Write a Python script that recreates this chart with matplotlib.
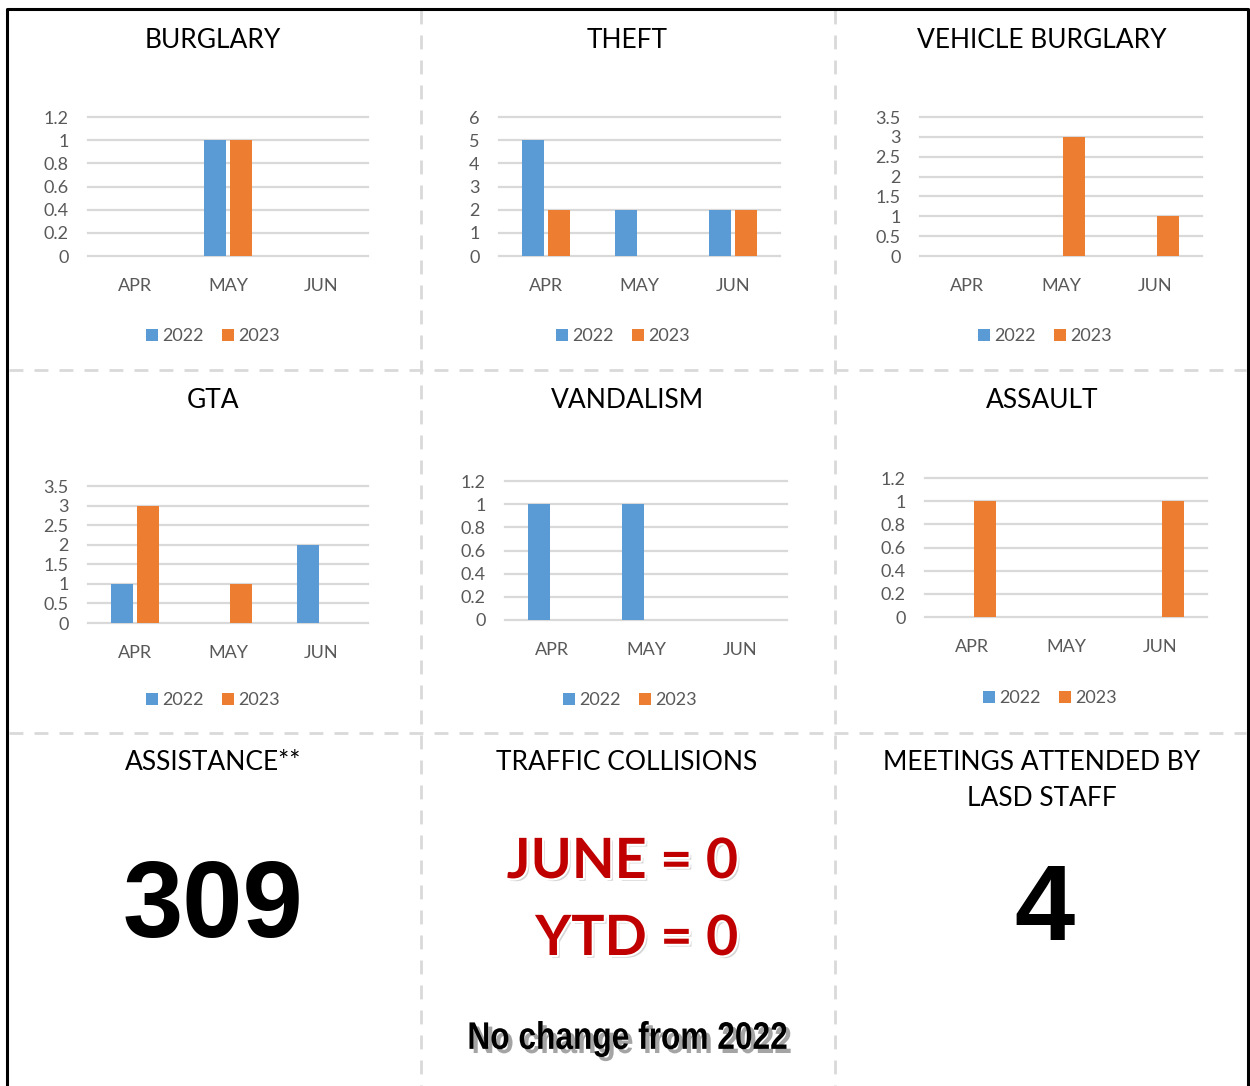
import matplotlib
matplotlib.use('Agg')
import matplotlib.pyplot as plt
import matplotlib.patheffects as pe
from matplotlib.lines import Line2D
from matplotlib.patches import PathPatch
from matplotlib.textpath import TextPath
from matplotlib.font_manager import FontProperties
from matplotlib.transforms import Affine2D
from matplotlib.ticker import FuncFormatter

plt.rcParams['font.family'] = ['Lato', 'DejaVu Sans']

W, H = 1250, 1086

# monthly counts
months = ['APR', 'MAY', 'JUN']
years = ['2022', '2023']
burglary_2022 = [0, 1, 0]
burglary_2023 = [0, 1, 0]
theft_2022 = [5, 2, 2]
theft_2023 = [2, 0, 2]
vehicle_2022 = [0, 0, 0]
vehicle_2023 = [0, 3, 1]
gta_2022 = [1, 0, 2]
gta_2023 = [3, 1, 0]
vandalism_2022 = [1, 1, 0]
vandalism_2023 = [0, 0, 0]
assault_2022 = [0, 0, 0]
assault_2023 = [1, 0, 1]

assistance_total = 309
meetings_total = 4
june_collisions = 0
ytd_collisions = 0

BLUE = '#5B9BD5'
ORANGE = '#ED7D31'
GRID = '#D9D9D9'
LABEL = '#595959'

fig = plt.figure(figsize=(W / 100, H / 100), dpi=100)


def fx(x):
    return x / W


def fy(y):
    return 1 - y / H


def crime_chart(title, s22, s23, ymax, step, box, title_xy, legend_xy):
    x0, y0, x1, y1 = box
    ax = fig.add_axes([fx(x0), fy(y1), (x1 - x0) / W, (y1 - y0) / H])
    idx = range(len(months))
    w = 0.235
    b1 = ax.bar([i - 0.14 for i in idx], s22, width=w, color=BLUE, label=years[0], zorder=3)
    b2 = ax.bar([i + 0.14 for i in idx], s23, width=w, color=ORANGE, label=years[1], zorder=3)
    ax.set_xlim(-0.5, len(months) - 0.5)
    ax.set_ylim(0, ymax)
    n = int(round(ymax / step))
    ax.set_yticks([k * step for k in range(n + 1)])
    ax.yaxis.set_major_formatter(FuncFormatter(lambda v, p: f'{v:g}'))
    ax.set_xticks(list(idx))
    ax.set_xticklabels(months)
    ax.tick_params(axis='both', length=0, labelcolor=LABEL, labelsize=13)
    ax.tick_params(axis='x', pad=16)
    ax.tick_params(axis='y', pad=14)
    ax.yaxis.grid(True, color=GRID, linewidth=1.6)
    ax.set_axisbelow(True)
    for gl in ax.get_ygridlines():
        gl.set_clip_on(False)
    for s in ax.spines.values():
        s.set_visible(False)
    ax.patch.set_alpha(0)
    fig.text(fx(title_xy[0]), fy(title_xy[1]), title, ha='center', va='center', fontsize=19)
    ax.legend(handles=[b1, b2], loc='center', ncol=2, frameon=False,
              bbox_to_anchor=(fx(legend_xy[0]), fy(legend_xy[1])), bbox_transform=fig.transFigure,
              handlelength=0.65, handleheight=0.65, handletextpad=0.25, columnspacing=1.0,
              fontsize=13, labelcolor=LABEL)
    return ax


crime_chart('BURGLARY', burglary_2022, burglary_2023, 1.2, 0.2,
            (88, 117, 368, 256), (213, 40), (213, 336))
crime_chart('THEFT', theft_2022, theft_2023, 6, 1,
            (499, 117, 780, 256), (627, 40), (623, 336))
crime_chart('VEHICLE BURGLARY', vehicle_2022, vehicle_2023, 3.5, 0.5,
            (920, 117, 1202, 256), (1042, 40), (1045, 336))
crime_chart('GTA', gta_2022, gta_2023, 3.5, 0.5,
            (88, 486, 368, 623), (213, 400), (213, 700))
crime_chart('VANDALISM', vandalism_2022, vandalism_2023, 1.2, 0.2,
            (505, 481, 787, 620), (627, 400), (630, 700))
crime_chart('ASSAULT', assault_2022, assault_2023, 1.2, 0.2,
            (925, 478, 1207, 617), (1042, 400), (1050, 698))

# bottom row panels
fig.text(fx(213), fy(762), 'ASSISTANCE**', ha='center', va='center', fontsize=19)
fig.text(fx(627), fy(762), 'TRAFFIC COLLISIONS', ha='center', va='center', fontsize=19)
fig.text(fx(1042), fy(781), 'MEETINGS ATTENDED BY\nLASD STAFF', ha='center', va='center',
         fontsize=19, linespacing=1.55)

fig.text(fx(213), fy(937), str(assistance_total), ha='center', va='baseline', fontsize=78,
         fontweight='bold', family=['Liberation Sans', 'DejaVu Sans'])
fig.text(fx(1045), fy(940), str(meetings_total), ha='center', va='baseline', fontsize=78,
         fontweight='bold', family=['Liberation Sans', 'DejaVu Sans'])

red_fx = [pe.SimplePatchShadow(offset=(2, -2), shadow_rgbFace='#888888', alpha=0.35),
          pe.withStroke(linewidth=3, foreground='white')]
fig.text(fx(738), fy(878), f'JUNE = {june_collisions}', ha='right', va='baseline', fontsize=40,
         fontweight='bold', color='#C00000', path_effects=red_fx)
fig.text(fx(738), fy(955), f'YTD = {ytd_collisions}', ha='right', va='baseline', fontsize=40,
         fontweight='bold', color='#C00000', path_effects=red_fx)

# condensed caption: bold glyph outlines squeezed horizontally
note = 'No change from 2022'
tp = TextPath((0, 0), note, size=40, prop=FontProperties(family='Liberation Sans', weight='bold'))
ext = tp.get_extents()
sx = 317 / ext.width
sy = 36 / ext.height
tr = (Affine2D().translate(-(ext.x0 + ext.x1) / 2, -(ext.y0 + ext.y1) / 2)
      .scale(sx / W, sy / H).translate(fx(628), fy(1039)) + fig.transFigure)
fig.add_artist(PathPatch(tp, transform=tr, facecolor='black', edgecolor='none',
                         path_effects=[pe.SimplePatchShadow(offset=(3, -3), shadow_rgbFace='#9a9a9a',
                                                            alpha=0.9),
                                       pe.Normal()]))

# dashed panel dividers
dash = dict(color=GRID, linewidth=2, linestyle=(0, (5, 4)), transform=fig.transFigure)
for xv in (421, 835):
    fig.add_artist(Line2D([fx(xv), fx(xv)], [fy(10), fy(H)], **dash))
for yv in (370, 733):
    fig.add_artist(Line2D([fx(9), fx(1246)], [fy(yv), fy(yv)], **dash))

# outer frame, open at the bottom
fig.add_artist(Line2D([fx(7), fx(7), fx(1248), fx(1248)], [fy(H), fy(9), fy(9), fy(H)],
                      color='black', linewidth=2.2, transform=fig.transFigure))

fig.savefig('out.png', dpi=100)
